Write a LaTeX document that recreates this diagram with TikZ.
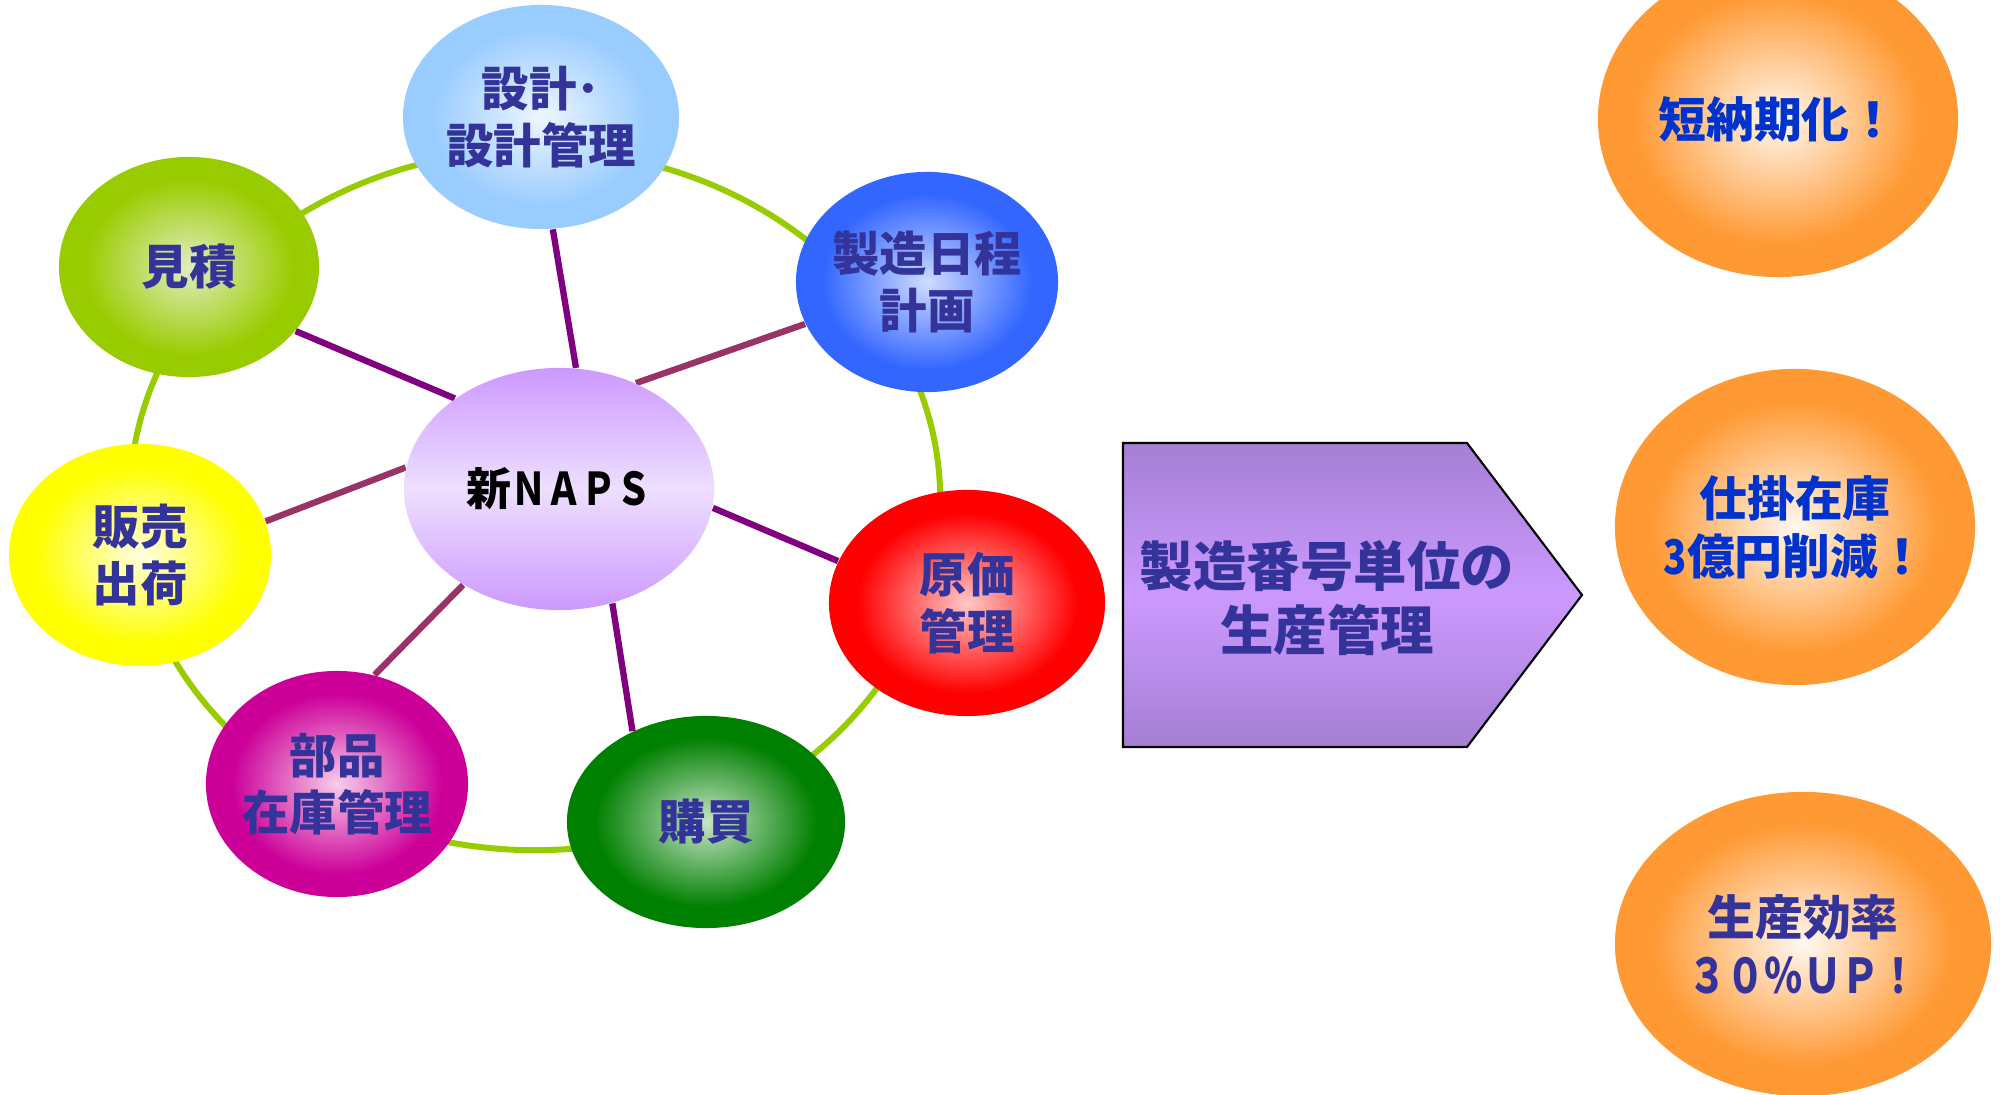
\documentclass[tikz,border=0pt]{standalone}
\usepackage{fontspec}
\setmainfont{Noto Sans CJK JP}
\usepackage{graphicx}
\usetikzlibrary{shapes.geometric}
\pgfdeclarelayer{bg}
\pgfsetlayers{bg,main}
\definecolor{tblue}{HTML}{333399}
\definecolor{tbluetwo}{HTML}{0033CC}
\definecolor{ringgreen}{HTML}{99CC00}
\definecolor{spokep}{HTML}{800080}
\definecolor{spokeq}{HTML}{993366}
\definecolor{napsedge}{HTML}{CC99FF}
\definecolor{napsmid}{HTML}{EEDFFF}
\definecolor{arredge}{HTML}{A57FD4}
\definecolor{arrmid}{HTML}{CC99FF}
\newcommand\mkball[3]{%
  \definecolor{#1in}{HTML}{#2}\definecolor{#1out}{HTML}{#3}%
  \pgfdeclareradialshading{#1}{\pgfpointorigin}{color(0bp)=(#1in); color(20bp)=(#1out); color(50bp)=(#1out)}}
\mkball{shSekkei}{EEF6FF}{99CCFF}
\mkball{shMitsu}{E2EDC0}{99CC00}
\mkball{shSeizo}{CFDBFF}{3366FF}
\mkball{shHanbai}{FFFFE0}{FFFF00}
\mkball{shGenka}{FFC8C8}{FF0000}
\mkball{shBuhin}{F7CDEA}{CC0099}
\mkball{shKobai}{C8E4C8}{008000}
\mkball{shOrange}{FFF8F0}{FF9933}
\tikzset{
  ball/.style={ellipse, inner sep=-6pt, shade, align=center, text=tblue,
    font=\bfseries\fontsize{13.5}{16.2}\selectfont},
  ring/.style={draw=ringgreen, line width=1.7pt},
  spokeA/.style={draw=spokep, line width=1.8pt},
  spokeB/.style={draw=spokeq, line width=1.8pt},
  goal/.style={ball, shading=shOrange, minimum width=3.6cm, minimum height=3.16cm,
    font=\bfseries\fontsize{13.6}{16.5}\selectfont},
}
\begin{document}
\begin{tikzpicture}[x=0.01cm, y=-0.01cm]
\useasboundingbox (0,0) rectangle (2000,1095);

% cycle nodes
\node[ball, shading=shSekkei, minimum width=2.76cm, minimum height=2.24cm] (sekkei) at (541,117) {設計･\\設計管理};
\node[ball, shading=shMitsu, minimum width=2.60cm, minimum height=2.20cm] (mitsumori) at (189,267) {見積};
\node[ball, shading=shSeizo, minimum width=2.62cm, minimum height=2.20cm] (seizo) at (927,282) {製造日程\\計画};
\node[ball, shading=shHanbai, minimum width=2.62cm, minimum height=2.22cm] (hanbai) at (140,555) {販売\\出荷};
\node[ball, shading=shGenka, minimum width=2.76cm, minimum height=2.26cm] (genka) at (967,603) {原価\\管理};
\node[ball, shading=shBuhin, minimum width=2.62cm, minimum height=2.26cm] (buhin) at (337,784) {部品\\在庫管理};
\node[ball, shading=shKobai, minimum width=2.78cm, minimum height=2.12cm] (kobai) at (706,822) {購買};

% hub
\node[ellipse, inner sep=-6pt, minimum width=3.10cm, minimum height=2.42cm,
  top color=napsedge, bottom color=napsedge, middle color=napsmid,
  font=\bfseries\fontsize{12.8}{15}\selectfont, text=black] (naps) at (559,489)
  {新\scalebox{0.78}[1]{ＮＡＰＳ}};

% arrow
\shadedraw[draw=black, line width=0.6pt, top color=arredge, bottom color=arredge, middle color=arrmid]
  (1123,443) -- (1467,443) -- (1582,595) -- (1467,747) -- (1123,747) -- cycle;
\node[align=center, text=tblue, font=\bfseries\fontsize{15.2}{18.2}\selectfont] (arrtext) at (1327,598)
  {製造番号単位の\\生産管理};

% goals
\node[goal, text=tbluetwo] (goal1) at (1778,119) {短納期化！};
\node[goal, text=tbluetwo] (goal2) at (1795,527) {仕掛在庫\\\scalebox{0.8}[1]{3}億円削減！};
\node[goal, minimum width=3.76cm, minimum height=3.04cm] (goal3) at (1803,944)
  {生産効率\\\scalebox{0.8}[1]{３０％ＵＰ！}};

\begin{pgfonlayer}{bg}
  \draw[ring] (535,500) ellipse [x radius=4.05cm, y radius=3.5cm];
  \draw[spokeA] (naps.139) -- (mitsumori.329);
  \draw[spokeA] (naps.82) -- (sekkei.276);
  \draw[spokeB] (naps.54) -- (seizo.199);
  \draw[spokeB] (naps.172) -- (hanbai.15);
  \draw[spokeA] (naps.353) -- (genka.162);
  \draw[spokeB] (naps.225) -- (buhin.71);
  \draw[spokeA] (naps.295) -- (kobai.129);
\end{pgfonlayer}
\end{tikzpicture}
\end{document}
